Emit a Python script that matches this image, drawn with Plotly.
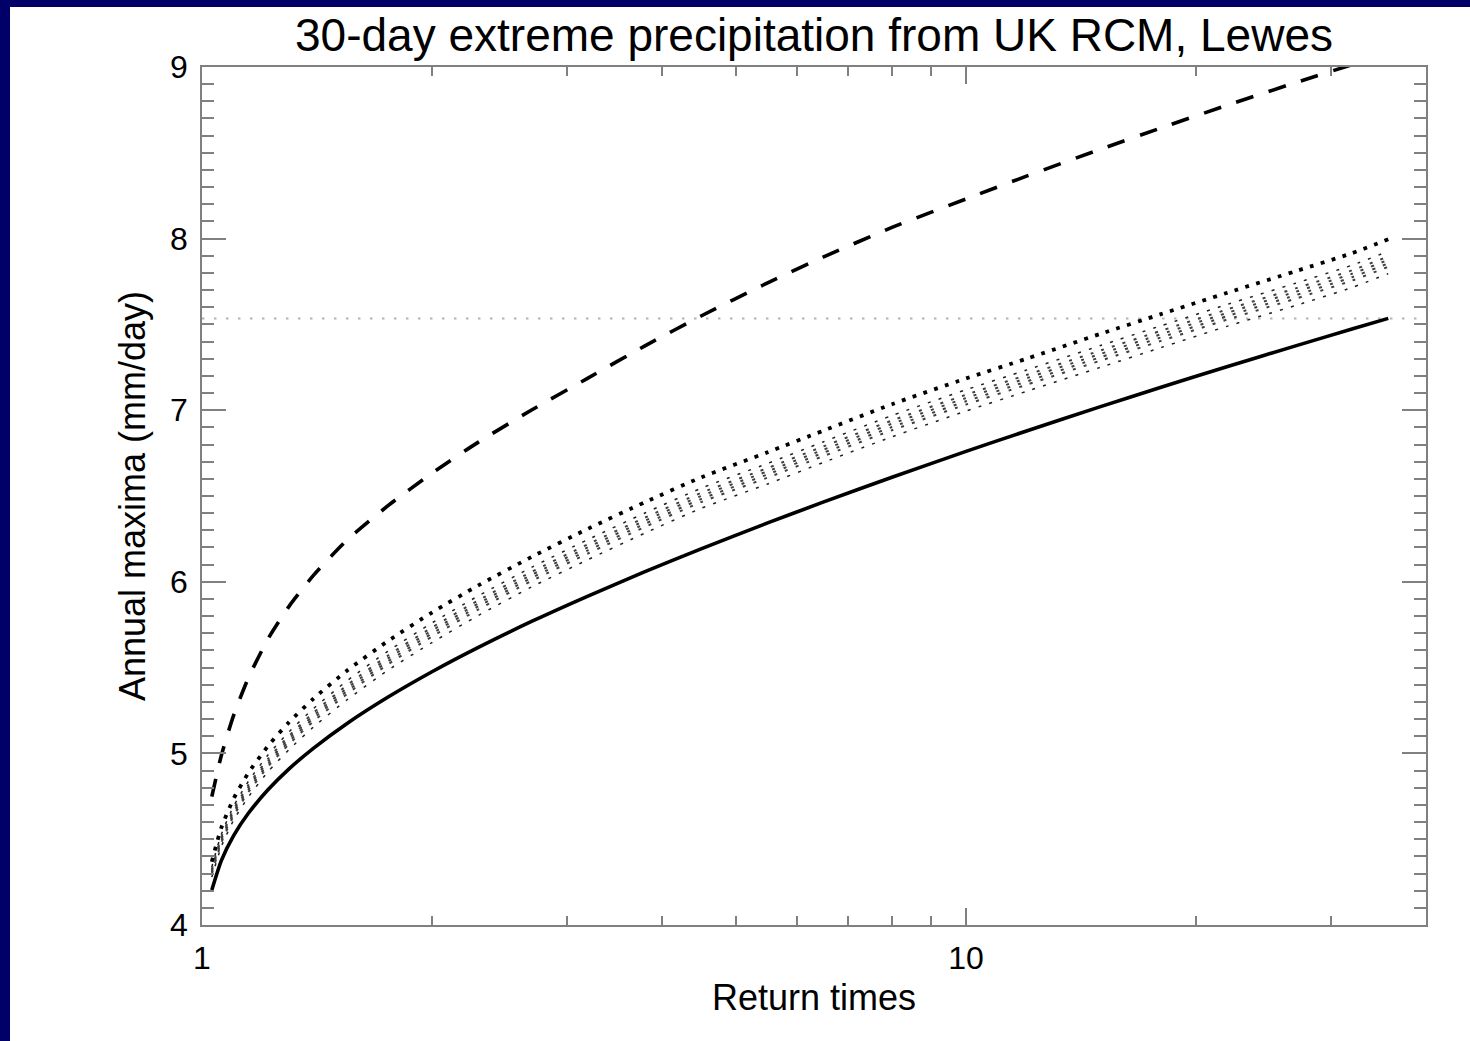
import numpy as np
import plotly.graph_objects as go

# ---------------- data ----------------
return_times = [1.03, 1.06, 1.1, 1.15, 1.22, 1.3, 1.4, 1.55, 1.75, 2.0, 2.3, 2.7, 3.2,
                3.8, 4.5, 5.5, 6.5, 8, 10, 12, 15, 18, 22, 27, 32, 35.7]

solid_curve = [4.204, 4.375, 4.521, 4.651, 4.788, 4.910, 5.031, 5.176, 5.327, 5.476, 5.618,
               5.769, 5.917, 6.059, 6.192, 6.343, 6.464, 6.609, 6.760, 6.879, 7.021, 7.134,
               7.255, 7.375, 7.473, 7.535]

dashed_curve = [4.748, 4.988, 5.222, 5.440, 5.667, 5.857, 6.039, 6.245, 6.442, 6.633, 6.814,
                7.001, 7.187, 7.375, 7.549, 7.742, 7.892, 8.065, 8.231, 8.364, 8.521, 8.645,
                8.778, 8.909, 9.013, 9.079]

dotted_curve = [4.369, 4.567, 4.736, 4.886, 5.043, 5.182, 5.320, 5.484, 5.654, 5.821, 5.979,
                6.145, 6.309, 6.464, 6.608, 6.755, 6.88, 7.035, 7.185, 7.30, 7.445, 7.56,
                7.685, 7.81, 7.915, 7.996]

band_a = [4.338, 4.529, 4.692, 4.837, 4.991, 5.126, 5.262, 5.425, 5.595, 5.760, 5.918, 6.084,
          6.246, 6.401, 6.545, 6.690, 6.815, 6.969, 7.119, 7.234, 7.377, 7.492, 7.617, 7.740,
          7.845, 7.926]
band_b = [4.324, 4.512, 4.674, 4.816, 4.968, 5.102, 5.238, 5.399, 5.569, 5.734, 5.892, 6.058,
          6.219, 6.374, 6.518, 6.663, 6.788, 6.940, 7.090, 7.205, 7.348, 7.463, 7.588, 7.710,
          7.815, 7.896]
band_c = [4.315, 4.501, 4.661, 4.802, 4.953, 5.086, 5.221, 5.382, 5.552, 5.716, 5.874, 6.040,
          6.201, 6.356, 6.500, 6.644, 6.769, 6.921, 7.071, 7.186, 7.328, 7.443, 7.568, 7.690,
          7.795, 7.876]
band_d = [4.306, 4.490, 4.649, 4.788, 4.938, 5.070, 5.205, 5.365, 5.535, 5.699, 5.857, 6.023,
          6.183, 6.338, 6.482, 6.626, 6.751, 6.902, 7.052, 7.167, 7.309, 7.424, 7.549, 7.670,
          7.775, 7.856]
band_e = [4.297, 4.479, 4.636, 4.774, 4.923, 5.054, 5.188, 5.348, 5.518, 5.681, 5.839, 6.005,
          6.165, 6.320, 6.464, 6.607, 6.732, 6.883, 7.033, 7.148, 7.289, 7.404, 7.529, 7.650,
          7.755, 7.836]
band_f = [4.279, 4.457, 4.611, 4.746, 4.893, 5.022, 5.155, 5.314, 5.484, 5.646, 5.804, 5.970,
          6.129, 6.284, 6.428, 6.570, 6.695, 6.845, 6.995, 7.110, 7.250, 7.365, 7.490, 7.610,
          7.715, 7.796]

reference_level = 7.535
x_limits = [1, 40]
y_limits = [4, 9]
x_major_ticks = [1, 10]
x_major_labels = ["1", "10"]
x_minor_ticks = [2, 3, 4, 5, 6, 7, 8, 9, 20, 30]

title_text = "30-day extreme precipitation from UK RCM, Lewes"
x_title = "Return times"
y_title = "Annual maxima (mm/day)"

# ---------------- figure ----------------
FONT = "Liberation Sans, Arial, Helvetica, sans-serif"
AXC = "#808080"
NAVY = "#000068"

fig = go.Figure()

fig.add_trace(go.Scatter(x=x_limits, y=[reference_level, reference_level], mode="lines",
                         line=dict(color="#b4b4b4", width=2, dash="2.5px,9.5px"),
                         hoverinfo="skip"))

band_style = [(band_a, "#202020", 1.5), (band_b, "#404040", 2.0), (band_c, "#404040", 2.0),
              (band_d, "#404040", 2.0), (band_e, "#404040", 2.0), (band_f, "#202020", 1.5)]
for vals, col, w in band_style:
    fig.add_trace(go.Scatter(x=return_times, y=vals, mode="lines",
                             line=dict(color=col, width=w, dash="3px,8.3px",
                                       shape="spline", smoothing=0.6)))

fig.add_trace(go.Scatter(x=return_times, y=dotted_curve, mode="lines",
                         line=dict(color="black", width=3.8, dash="3.8px,7.5px",
                                   shape="spline", smoothing=0.6)))
fig.add_trace(go.Scatter(x=return_times, y=dashed_curve, mode="lines",
                         line=dict(color="black", width=3.6, dash="18px,16px",
                                   shape="spline", smoothing=0.6)))
fig.add_trace(go.Scatter(x=return_times, y=solid_curve, mode="lines",
                         line=dict(color="black", width=3.6, shape="spline", smoothing=0.6)))

fig.update_layout(
    width=1470, height=1041,
    margin=dict(l=202, r=44, t=67, b=116),
    paper_bgcolor=NAVY, plot_bgcolor="white",
    showlegend=False,
    font=dict(family=FONT, color="black"),
    title=dict(text=title_text, x=0.5, xref="paper", xanchor="center",
               y=1 - 35 / 1041, yref="container", yanchor="middle",
               font=dict(size=46, family=FONT, color="black")),
    shapes=[dict(type="rect", xref="paper", yref="paper",
                 x0=(10 - 202) / 1224, x1=1.06, y0=-0.2, y1=(925 - 7) / 858,
                 fillcolor="white", line=dict(width=0), layer="below")],
)

fig.update_xaxes(
    type="log", range=[np.log10(x_limits[0]), np.log10(x_limits[1])],
    showline=True, linecolor=AXC, linewidth=1.5, mirror="allticks",
    ticks="inside", ticklen=17, tickwidth=1.5, tickcolor=AXC,
    tickmode="array", tickvals=x_major_ticks, ticktext=x_major_labels,
    tickfont=dict(size=32, family=FONT, color="black"), ticklabelstandoff=4,
    minor=dict(tickmode="array", tickvals=x_minor_ticks, ticks="inside", ticklen=9,
               tickwidth=1.5, tickcolor=AXC, showgrid=False),
    showgrid=False, zeroline=False,
    title=dict(text=x_title, font=dict(size=36, family=FONT, color="black"), standoff=10),
)
fig.update_yaxes(
    range=y_limits, dtick=1, tick0=4,
    showline=True, linecolor=AXC, linewidth=1.5, mirror="allticks",
    ticks="inside", ticklen=24, tickwidth=1.5, tickcolor=AXC,
    tickfont=dict(size=32, family=FONT, color="black"), ticklabelstandoff=6,
    minor=dict(dtick=0.1, ticks="inside", ticklen=12, tickwidth=1.5, tickcolor=AXC,
               showgrid=False),
    showgrid=False, zeroline=False,
    title=dict(text=y_title, font=dict(size=36, family=FONT, color="black"), standoff=13),
)

fig.write_html("out.html")
